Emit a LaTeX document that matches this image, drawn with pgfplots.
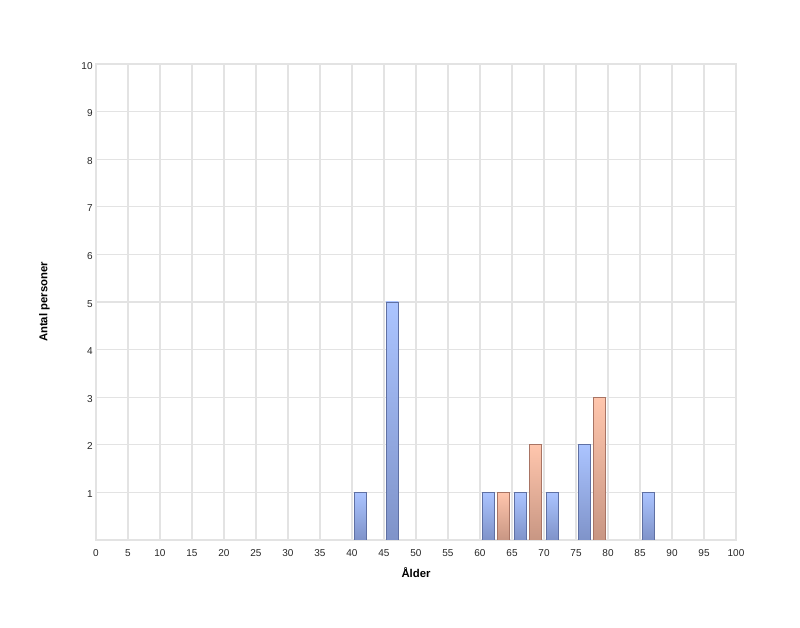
\documentclass[border=0pt]{standalone}
\usepackage{fontspec}
\setmainfont{Liberation Sans}
\usepackage{pgfplots}
\pgfplotsset{compat=1.18}
\definecolor{gridc}{HTML}{E3E3E3}
\definecolor{btop}{HTML}{ABC4FF}
\definecolor{bbot}{HTML}{7F93C9}
\definecolor{bdraw}{HTML}{5F70A3}
\definecolor{otop}{HTML}{FFC6AD}
\definecolor{obot}{HTML}{C89683}
\definecolor{odraw}{HTML}{A87464}
\pgfplotsset{
  bluebar/.style={ybar, bar width=1.9, bar shift=0pt, draw=bdraw, line width=0.55pt, top color=btop, bottom color=bbot},
  orangebar/.style={ybar, bar width=1.9, bar shift=0pt, draw=odraw, line width=0.55pt, top color=otop, bottom color=obot},
}
\begin{document}
\begin{tikzpicture}
\begin{axis}[
  at={(0,0)}, anchor=south west,
  scale only axis,
  width=480pt, height=357pt,
  xmin=0, xmax=100, ymin=0, ymax=10,
  xtick={0,5,...,100},
  ytick={1,2,...,10},
  grid=major,
  major grid style={gridc, line width=0.8pt},
  axis line style={gridc, line width=0.8pt},
  tick style={draw=none},
  /pgf/number format/assume math mode=true,
  typeset ticklabels with strut,
  tick label style={font=\fontsize{7.5}{9}\selectfont, text=black!85},
  xticklabel style={yshift=-2.5pt},
  yticklabel style={xshift=1pt, yshift=-2pt},
  xlabel={\textbf{Ålder}},
  ylabel={\textbf{Antal personer}},
  xlabel style={font=\fontsize{8.5}{10}\selectfont, yshift=1.5pt},
  ylabel style={font=\fontsize{8.5}{10}\selectfont, yshift=17pt},
]
% blue series
\addplot[bluebar] coordinates {(41.3,1)};
\addplot[bluebar] coordinates {(46.3,5)};
\addplot[bluebar] coordinates {(61.3,1)};
\addplot[bluebar] coordinates {(66.3,1)};
\addplot[bluebar] coordinates {(71.3,1)};
\addplot[bluebar] coordinates {(76.3,2)};
\addplot[bluebar] coordinates {(86.3,1)};
% orange series
\addplot[orangebar] coordinates {(63.65,1)};
\addplot[orangebar] coordinates {(68.65,2)};
\addplot[orangebar] coordinates {(78.65,3)};
\end{axis}
\pgfresetboundingbox
\useasboundingbox (-72pt,-66pt) rectangle (528pt,405pt);
\end{tikzpicture}
\end{document}
